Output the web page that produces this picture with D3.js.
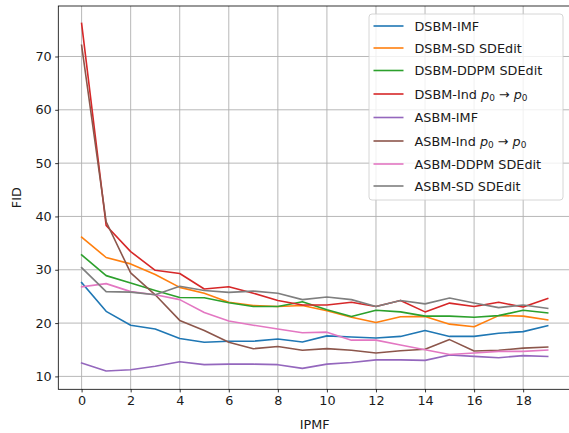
<!DOCTYPE html>
<html><head><meta charset="utf-8">
<script src="https://cdn.jsdelivr.net/npm/d3@7"></script>
<style>body{margin:0;background:#fff}svg{display:block;font-family:"DejaVu Sans",sans-serif}</style>
</head><body><svg id="c" width="569" height="433"></svg>
<script>
const iterations = d3.range(20);
const seriesNames = ["DSBM-IMF","DSBM-SD SDEdit","DSBM-DDPM SDEdit","DSBM-Ind","ASBM-IMF","ASBM-Ind","ASBM-DDPM SDEdit","ASBM-SD SDEdit"];
const colors = ["#1f77b4","#ff7f0e","#2ca02c","#d62728","#9467bd","#8c564b","#e377c2","#7f7f7f"];
const dsbmIMF   = [27.6,22.2,19.6,18.9,17.1,16.4,16.6,16.6,17.0,16.45,17.6,17.4,17.2,17.5,18.6,17.5,17.5,18.1,18.4,19.5];
const dsbmSD    = [36.1,32.3,31.1,29.1,26.7,25.6,23.9,23.3,23.1,23.3,22.3,21.1,20.1,21.2,21.25,19.8,19.3,21.4,21.3,20.6];
const dsbmDDPM  = [32.8,28.9,27.5,26.1,24.8,24.75,23.8,23.1,23.1,24.0,22.5,21.25,22.4,22.1,21.3,21.3,21.1,21.4,22.4,21.9];
const dsbmInd   = [76.2,38.3,33.4,29.9,29.3,26.4,26.8,25.6,24.25,23.4,23.4,23.9,23.1,24.25,22.1,23.75,23.1,23.9,23.0,24.6];
const asbmIMF   = [12.5,11.0,11.25,11.9,12.75,12.2,12.3,12.3,12.2,11.5,12.3,12.6,13.1,13.1,13.0,14.0,13.75,13.5,13.9,13.75];
const asbmInd   = [72.1,39.0,29.4,25.3,20.5,18.6,16.4,15.2,15.6,14.9,15.2,14.9,14.4,14.8,15.1,16.9,14.75,14.9,15.3,15.5];
const asbmDDPM  = [26.8,27.4,25.9,25.3,24.4,22.0,20.4,19.6,18.9,18.2,18.3,16.8,16.8,15.9,15.0,14.1,14.4,14.7,14.7,14.95];
const asbmSD    = [30.4,25.9,25.8,25.3,26.9,26.1,25.75,26.0,25.6,24.4,24.9,24.4,23.1,24.25,23.6,24.7,23.75,22.9,23.4,22.75];
const allSeries = [dsbmIMF,dsbmSD,dsbmDDPM,dsbmInd,asbmIMF,asbmInd,asbmDDPM,asbmSD];
const xTicks = [0,2,4,6,8,10,12,14,16,18];
const yTicks = [10,20,30,40,50,60,70];

const svg = d3.select("#c");
const L=58.3, R=571, T=6, B=389.3;
const x = d3.scaleLinear().domain([-0.95,19.95]).range([L,R]);
const y = d3.scaleLinear().domain([7.58,79.47]).range([B,T]);
const fs = 12.8;

// grid
svg.append("g").selectAll("line").data(xTicks).join("line")
  .attr("x1",d=>x(d)).attr("x2",d=>x(d)).attr("y1",T).attr("y2",B)
  .attr("stroke","#b0b0b0").attr("stroke-width",0.9);
svg.append("g").selectAll("line").data(yTicks).join("line")
  .attr("x1",L).attr("x2",R).attr("y1",d=>y(d)).attr("y2",d=>y(d))
  .attr("stroke","#b0b0b0").attr("stroke-width",0.9);

// lines
const line = d3.line().x((d,i)=>x(iterations[i])).y(d=>y(d));
const g = svg.append("g");
allSeries.forEach((s,k)=>{
  g.append("path").attr("d",line(s)).attr("fill","none")
   .attr("stroke",colors[k]).attr("stroke-width",1.6).attr("stroke-linejoin","round").attr("stroke-linecap","square");
});

// axes
const xa = svg.append("g").attr("transform",`translate(0,${B})`)
  .call(d3.axisBottom(x).tickValues(xTicks).tickSize(3.1).tickPadding(3.5).tickFormat(d3.format("d")));
const ya = svg.append("g").attr("transform",`translate(${L},0)`)
  .call(d3.axisLeft(y).tickValues(yTicks).tickSize(3.1).tickPadding(3.5).tickFormat(d3.format("d")));
[xa,ya].forEach(a=>{
  a.select(".domain").remove();
  a.selectAll("text").attr("font-size",fs).attr("fill","#1a1a1a").attr("font-family","DejaVu Sans");
  a.selectAll("line").attr("stroke","#000").attr("stroke-width",0.8);
});
// frame
svg.append("rect").attr("x",L).attr("y",T).attr("width",R-L).attr("height",B-T)
  .attr("fill","none").attr("stroke","#000").attr("stroke-width",0.8);

svg.append("text").attr("x",(L+R)/2).attr("y",429).attr("text-anchor","middle").attr("font-size",fs).attr("fill","#1a1a1a").text("IPMF");
svg.append("text").attr("transform",`translate(21,${(T+B)/2}) rotate(-90)`).attr("text-anchor","middle").attr("font-size",fs).attr("fill","#1a1a1a").text("FID");

// legend
const lg = svg.append("g");
lg.append("rect").attr("x",369).attr("y",14).attr("width",194).attr("height",186).attr("rx",3)
  .attr("fill","#fff").attr("fill-opacity",0.8).attr("stroke","#cccccc").attr("stroke-width",0.8);
const rowY = [26,48,70.5,94,117.5,141,164,186];
seriesNames.forEach((n,k)=>{
  lg.append("line").attr("x1",373.5).attr("x2",403.5).attr("y1",rowY[k]).attr("y2",rowY[k])
    .attr("stroke",colors[k]).attr("stroke-width",1.6);
  const t = lg.append("text").attr("x",414.5).attr("y",rowY[k]+4.6).attr("font-size",fs).attr("fill","#1a1a1a");
  if (n.endsWith("-Ind")) {
    t.append("tspan").text(n+" ");
    t.append("tspan").attr("font-style","italic").text("p");
    t.append("tspan").attr("font-size",fs*0.7).attr("dy",2.5).text("0");
    t.append("tspan").attr("dy",-2.5).text(" \u2192 ");
    t.append("tspan").attr("font-style","italic").text("p");
    t.append("tspan").attr("font-size",fs*0.7).attr("dy",2.5).text("0");
  } else t.text(n);
});
</script></body></html>
